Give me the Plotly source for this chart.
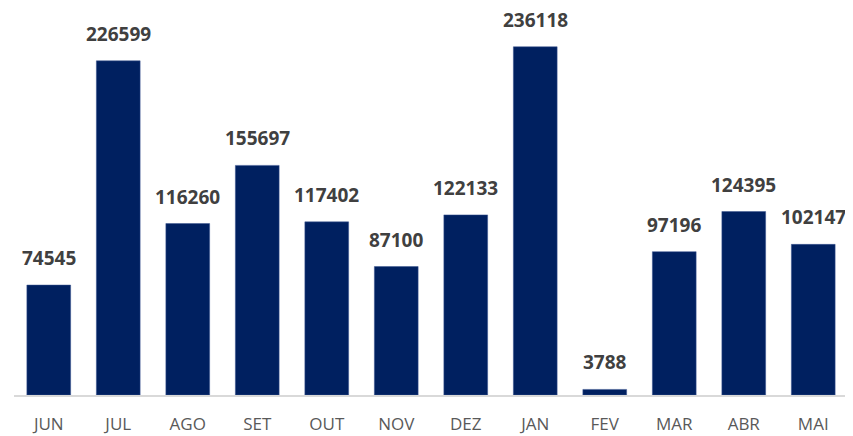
import plotly.graph_objects as go

months = ["JUN", "JUL", "AGO", "SET", "OUT", "NOV", "DEZ", "JAN", "FEV", "MAR", "ABR", "MAI"]
values = [74545, 226599, 116260, 155697, 117402, 87100, 122133, 236118, 3788, 97196, 124395, 102147]

fig = go.Figure(go.Bar(
    x=months, y=values,
    marker=dict(color="#002060", line=dict(color="#3a5590", width=0.5)),
))
for m, v in zip(months, values):
    fig.add_annotation(x=m, y=v, text=str(v), showarrow=False, yanchor="bottom",
                       yshift=12,
                       font=dict(family="Open Sans", size=19, color="#404040", weight="bold"))
fig.update_layout(
    width=853, height=436,
    margin=dict(l=6, r=13, t=4, b=49),
    plot_bgcolor="white", paper_bgcolor="white",
    bargap=0.37,
    showlegend=False,
    xaxis=dict(showline=True, linecolor="#d9d9d9", linewidth=1.5,
               tickfont=dict(family="Open Sans", size=17, color="#595959"),
               ticks="", showgrid=False, ticklabelstandoff=13),
    yaxis=dict(visible=False, range=[0, 259700]),
)
fig.write_html("out.html")
